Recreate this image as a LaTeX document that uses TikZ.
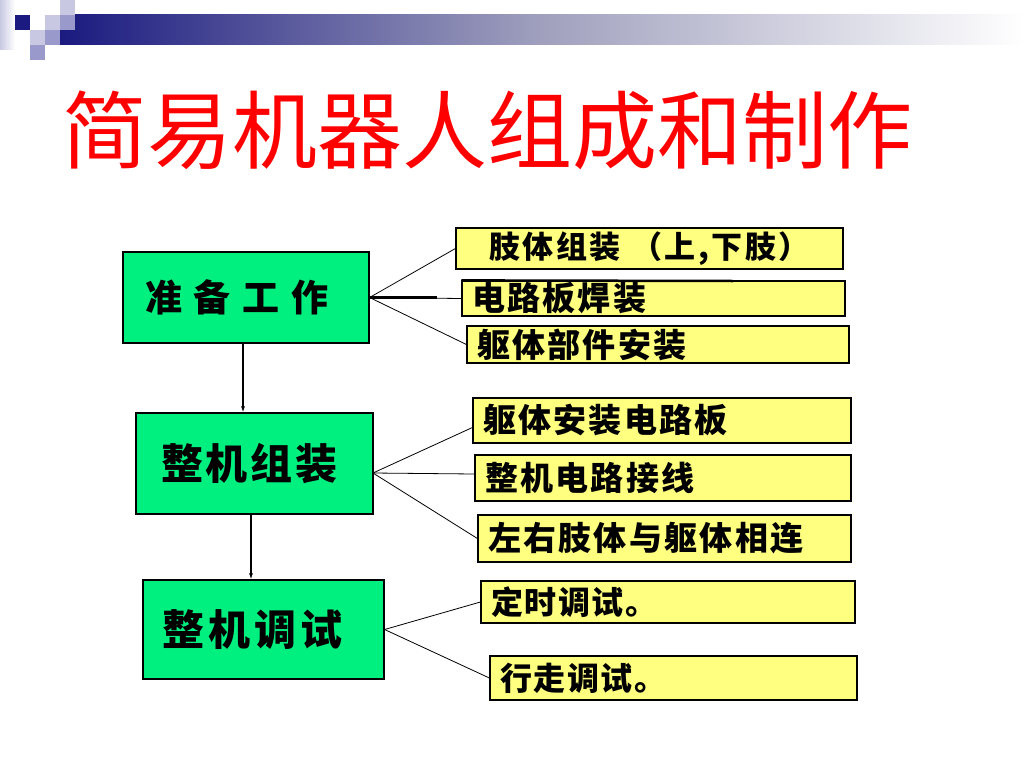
\documentclass[tikz,border=0pt]{standalone}
\usepackage{fontspec}
\newfontfamily\cjk{Noto Sans CJK SC}
\usetikzlibrary{arrows.meta}
\definecolor{navy}{RGB}{26,26,128}
\definecolor{lav}{RGB}{200,200,226}
\definecolor{midlav}{RGB}{153,153,204}
\definecolor{boxgreen}{RGB}{0,240,128}
\definecolor{boxyellow}{RGB}{255,255,128}
\tikzset{
  gbox/.style={draw=black, line width=1.2pt, fill=boxgreen, inner sep=0pt, font=\cjk\bfseries},
  ybox/.style={draw=black, line width=1.2pt, fill=boxyellow, inner xsep=10pt, inner ysep=0pt, align=left, font=\cjk\bfseries\fontsize{33}{35}\selectfont\addfontfeature{LetterSpace=7}},
  link/.style={draw=black, line width=0.8pt},
  down/.style={draw=black, line width=1.4pt, -{Latex[length=6pt,width=4pt]}}
}
\begin{document}
\begin{tikzpicture}[x=1pt,y=-1pt]
\useasboundingbox[fill=white] (0,0) rectangle (1024,768);
% header decoration
\shade[left color=lav, right color=white] (0,0) rectangle (15,50);
\shade[left color=navy, right color=white, middle color={rgb,255:red,160;green,160;blue,190}] (60,15) rectangle (1024,45);
\fill[navy] (15,15) rectangle (30,30);
\fill[lav] (45,15) rectangle (60,30);
\fill[lav] (60,0) rectangle (75,15);
\fill[midlav] (60,15) rectangle (75,30);
\fill[lav] (30,30) rectangle (45,45);
\fill[midlav] (45,30) rectangle (60,45);
\fill[midlav] (30,45) rectangle (45,60);
% title
\node[text=red, font=\cjk\fontsize{85}{90}\selectfont, inner sep=0pt] (title) at (487,130) {简易机器人组成和制作};
% green boxes
\node[gbox, minimum width=246pt, minimum height=91pt, font=\cjk\bfseries\fontsize{37}{39}\selectfont] (b1) at (246,297.5) {准\hspace{12pt}备\hspace{12pt}工\hspace{12pt}作\kern18pt};
\node[gbox, minimum width=237pt, minimum height=101pt, font=\cjk\bfseries\fontsize{42}{44}\selectfont] (b2) at (254.5,463.5) {整\hspace{3pt}机\hspace{3pt}组\hspace{3pt}装\kern10pt};
\node[gbox, minimum width=241pt, minimum height=99pt, font=\cjk\bfseries\fontsize{42}{44}\selectfont] (b3) at (263.5,629.5) {整\hspace{4pt}机\hspace{4pt}调\hspace{4pt}试\kern22pt};
% yellow boxes
\node[ybox, minimum width=387pt, minimum height=41pt, text width=367pt, align=center, font=\cjk\bfseries\fontsize{31}{33}\selectfont\addfontfeature{LetterSpace=8}] (y1) at (649.5,248.5) {肢体组装 （上,下肢）};
\node[ybox, minimum width=383pt, minimum height=35pt, text width=363pt] (y2) at (653.5,298.5) {电路板焊装};
\node[ybox, minimum width=382pt, minimum height=37pt, text width=362pt] (y3) at (658,344.5) {躯体部件安装};
\node[ybox, minimum width=378pt, minimum height=45pt, text width=358pt] (y4) at (662,420.5) {躯体安装电路板};
\node[ybox, minimum width=376pt, minimum height=46pt, text width=356pt] (y5) at (663,478) {整机电路接线};
\node[ybox, minimum width=373pt, minimum height=47pt, text width=353pt] (y6) at (664.5,538.5) {左右肢体与躯体相连};
\node[ybox, minimum width=374pt, minimum height=42pt, text width=354pt, font=\cjk\bfseries\fontsize{32}{34}\selectfont\addfontfeature{LetterSpace=5}] (y7) at (668,602) {定时调试。};
\node[ybox, minimum width=367pt, minimum height=44pt, text width=347pt, font=\cjk\bfseries\fontsize{32}{34}\selectfont\addfontfeature{LetterSpace=5}] (y8) at (673.5,678) {行走调试。};
% artifact thick top line on y2
\coordinate (y2t) at (733,281);
\draw[line width=2.5pt] (y2.north west) -- (y2t);
% flow arrows
\draw[down] (b1.south -| 243,0) -- (b2.north -| 243,0);
\draw[down] (b2.south -| 251,0) -- (b3.north -| 251,0);
% connectors
\coordinate (k1) at (437,297.5);
\draw[link] (b1.east) -- (y1.west);
\draw[link] (b1.east) -- (y2.west);
\draw[line width=2.5pt] (b1.east) -- (k1);
\draw[link] (b1.east) -- (y3.west);
\coordinate (o2) at (373,473);
\draw[link] (o2) -- ([yshift=-7pt]y4.west);
\draw[link] (o2) -- ([yshift=4pt]y5.west);
\draw[link] (o2) -- (y6.west);
\draw[link] (b3.east) -- (y7.west);
\draw[link] (b3.east) -- (y8.west);
\end{tikzpicture}
\end{document}
